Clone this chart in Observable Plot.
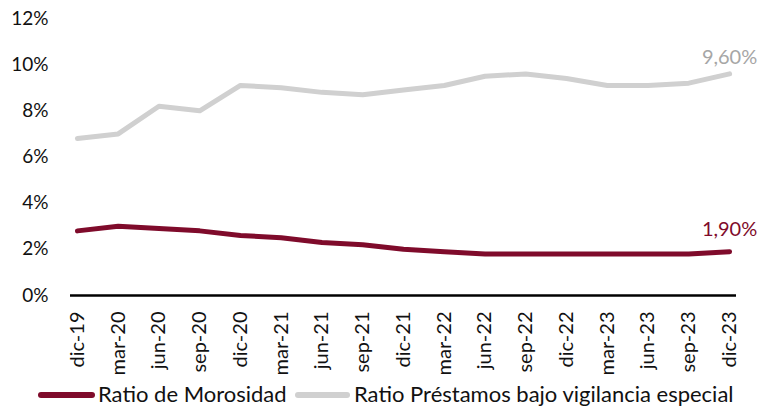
<!DOCTYPE html>
<html>
<head>
<meta charset="utf-8">
<script src="https://cdn.jsdelivr.net/npm/d3@7"></script>
<script src="https://cdn.jsdelivr.net/npm/@observablehq/plot@0.6"></script>
<style>
  html, body { margin: 0; padding: 0; background: #fff; }
  body { width: 761px; height: 412px; overflow: hidden; font-family: Lato, "Open Sans", sans-serif; }
  #wrap { position: relative; width: 761px; height: 412px; }
  #wrap svg { position: absolute; top: 0; left: 0; }
  .legend { position: absolute; top: 375px; left: 0; width: 761px; height: 37px; font-size: 22px; color: #111; }
  .sw { position: absolute; top: 17px; height: 6px; border-radius: 3px; }
  .lt { position: absolute; top: 6px; line-height: 26px; white-space: nowrap; }
</style>
</head>
<body>
<div id="wrap"></div>
<script>
const periods = ["dic-19","mar-20","jun-20","sep-20","dic-20","mar-21","jun-21","sep-21","dic-21","mar-22","jun-22","sep-22","dic-22","mar-23","jun-23","sep-23","dic-23"];
const morosidad = [2.8,3.0,2.9,2.8,2.6,2.5,2.3,2.2,2.0,1.9,1.8,1.8,1.8,1.8,1.8,1.8,1.9];
const vigilancia = [6.8,7.0,8.2,8.0,9.1,9.0,8.8,8.7,8.9,9.1,9.5,9.6,9.4,9.1,9.1,9.2,9.6];
const seriesNames = ["Ratio de Morosidad","Ratio Préstamos bajo vigilancia especial"];
const seriesColors = ["#7f0b2b","#d0d0d0"];
const labelColors = ["#7f0b2b","#a6a6a6"];
const endLabels = ["1,90%","9,60%"];
const yTicks = [0,2,4,6,8,10,12];

const rows = [];
periods.forEach((p,i) => {
  rows.push({period: p, value: morosidad[i], series: seriesNames[0]});
  rows.push({period: p, value: vigilancia[i], series: seriesNames[1]});
});
const last = periods.length - 1;
const endMoro = [{period: periods[last], value: morosidad[last], label: endLabels[0]}];
const endVig = [{period: periods[last], value: vigilancia[last], label: endLabels[1]}];

const chart = Plot.plot({
  width: 761,
  height: 412,
  marginTop: 18,
  marginBottom: 117,
  marginLeft: 70,
  marginRight: 25,
  style: {fontFamily: "Lato, 'Open Sans', sans-serif", fontSize: "19px", color: "#111", background: "transparent", overflow: "visible"},
  x: {type: "point", domain: periods, padding: 0.17, round: false, label: null},
  y: {domain: [0, 12], label: null},
  color: {domain: seriesNames, range: seriesColors},
  marks: [
    Plot.axisY({ticks: yTicks, tickSize: 0, tickPadding: 22, tickFormat: d => d + "%", fontSize: 19, label: null}),
    Plot.axisX({tickSize: 0, tickRotate: -90, tickPadding: 16, fontSize: 20, label: null}),
    Plot.ruleX([0], {x: () => null, frameAnchor: "left", stroke: "#000", strokeWidth: 2}),
    Plot.ruleY([0], {stroke: "#000", strokeWidth: 2.5}),
    Plot.line(rows, {x: "period", y: "value", z: "series", stroke: "series", strokeWidth: 5, strokeLinecap: "round", strokeLinejoin: "round"}),
    Plot.text(endMoro, {x: "period", y: "value", text: "label", fill: labelColors[0], dy: -22, fontSize: 20, textAnchor: "middle"}),
    Plot.text(endVig, {x: "period", y: "value", text: "label", fill: labelColors[1], dy: -16, fontSize: 20, textAnchor: "middle"})
  ]
});
const wrap = document.getElementById("wrap");
wrap.appendChild(chart);

const legend = document.createElement("div");
legend.className = "legend";
const swLeft = [38, 295], swWidth = [57, 55], txLeft = [98, 354];
seriesNames.forEach((n, i) => {
  const s = document.createElement("div");
  s.className = "sw";
  s.style.left = swLeft[i] + "px";
  s.style.width = swWidth[i] + "px";
  s.style.background = seriesColors[i];
  legend.appendChild(s);
  const t = document.createElement("div");
  t.className = "lt";
  t.style.left = txLeft[i] + "px";
  t.textContent = n;
  legend.appendChild(t);
});
wrap.appendChild(legend);
</script>
</body>
</html>
